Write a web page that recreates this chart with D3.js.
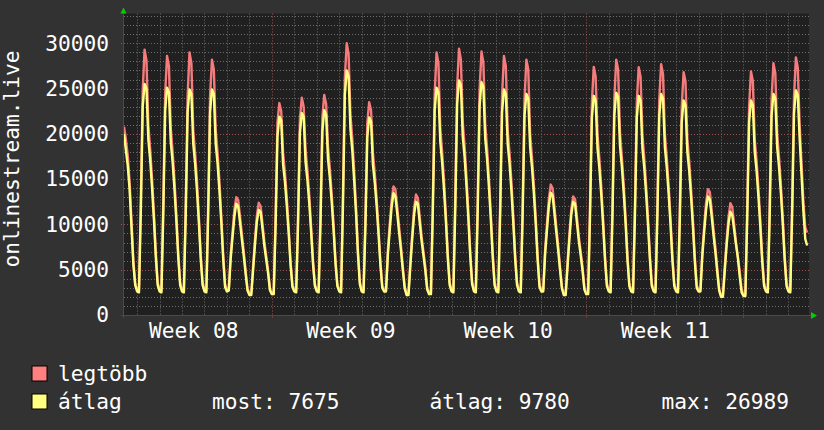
<!DOCTYPE html>
<html>
<head>
<meta charset="utf-8">
<script src="https://cdn.jsdelivr.net/npm/d3@7"></script>
<style>
  body { margin: 0; background: #323232; }
  svg { display: block; }
  text { font-family: "DejaVu Sans Mono", monospace; fill: #ffffff; }
</style>
</head>
<body>
<div id="chart"></div>
<script>
// one row per day, a sample every 2 hours (first day starts at 10:00, last ends at 20:00)
const days = [
  '2021-02-22', '2021-02-23', '2021-02-24', '2021-02-25', '2021-02-26', '2021-02-27', '2021-02-28',
  '2021-03-01', '2021-03-02', '2021-03-03', '2021-03-04', '2021-03-05', '2021-03-06', '2021-03-07',
  '2021-03-08', '2021-03-09', '2021-03-10', '2021-03-11', '2021-03-12', '2021-03-13', '2021-03-14',
  '2021-03-15', '2021-03-16', '2021-03-17', '2021-03-18', '2021-03-19', '2021-03-20', '2021-03-21',
  '2021-03-22', '2021-03-23', '2021-03-24'
];
const firstHour = 10;
const stepHours = 2;

// "átlag" series
const avgByDay = [
  [20000, 18200, 16500, 13800, 9700, 5600, 3300],
  [2600, 2500, 11500, 23000, 25500, 25000, 19400, 17100, 14000, 10500, 6400, 3300],
  [2600, 2500, 11300, 22600, 25100, 24600, 19100, 16800, 13800, 10300, 6300, 3300],
  [2600, 2500, 11200, 22400, 24900, 24400, 18900, 16700, 13700, 10200, 6200, 3300],
  [2600, 2500, 11200, 22400, 24900, 24400, 18900, 16700, 13700, 10200, 6200, 3100],
  [2600, 2700, 6200, 8600, 10900, 12300, 12000, 10200, 8300, 6500, 4500, 2700],
  [2200, 2200, 5000, 7800, 10300, 11600, 11400, 9500, 7600, 6100, 4600, 2700],
  [2300, 2300, 9900, 19700, 21900, 21500, 16600, 14700, 12000, 9000, 5500, 3100],
  [2600, 2500, 10000, 20100, 22300, 21900, 16900, 14900, 12300, 9100, 5600, 3200],
  [2600, 2500, 10200, 20300, 22600, 22100, 17200, 15100, 12400, 9300, 5700, 3200],
  [2600, 2500, 12100, 24300, 26989, 26400, 20500, 18100, 14800, 11100, 6700, 3400],
  [2600, 2500, 9800, 19600, 21800, 21400, 16600, 14600, 12000, 8900, 5500, 3000],
  [2600, 2600, 6700, 9400, 11900, 13450, 13100, 11200, 9100, 7100, 4900, 2900],
  [2200, 2200, 5400, 8400, 11100, 12500, 12300, 10200, 8200, 6600, 4900, 2800],
  [2300, 2300, 11300, 22600, 25100, 24600, 19100, 16800, 13800, 10300, 6300, 3300],
  [2600, 2500, 11700, 23300, 25900, 25400, 19700, 17400, 14200, 10600, 6500, 3400],
  [2600, 2500, 11600, 23100, 25700, 25200, 19500, 17200, 14100, 10500, 6400, 3300],
  [2600, 2500, 11200, 22400, 24900, 24400, 18900, 16700, 13700, 10200, 6200, 3300],
  [2600, 2500, 11000, 22000, 24400, 23900, 18500, 16300, 13400, 10000, 6100, 3100],
  [2600, 2600, 6700, 9400, 12000, 13500, 13200, 11200, 9100, 7100, 4900, 2900],
  [2200, 2200, 5400, 8400, 11100, 12500, 12300, 10200, 8200, 6600, 4900, 2800],
  [2300, 2300, 10900, 21800, 24200, 23700, 18400, 16200, 13300, 9900, 6100, 3200],
  [2600, 2500, 11000, 22100, 24550, 24100, 18700, 16400, 13500, 10100, 6100, 3200],
  [2600, 2500, 10900, 21800, 24200, 23700, 18400, 16200, 13300, 9900, 6100, 3200],
  [2600, 2500, 11000, 22000, 24400, 23900, 18500, 16300, 13400, 10000, 6100, 3200],
  [2600, 2500, 10700, 21300, 23700, 23200, 18000, 15900, 13000, 9700, 5900, 3000],
  [2600, 2600, 6500, 9200, 11600, 13100, 12800, 10900, 8800, 6900, 4700, 2700],
  [2000, 2000, 4900, 7700, 10100, 11400, 11000, 9400, 7800, 6300, 4200, 2500],
  [2100, 2100, 10700, 21300, 23700, 23200, 18000, 15900, 13000, 9700, 5900, 3200],
  [2600, 2500, 11000, 22000, 24400, 23900, 18500, 16300, 13400, 10000, 6100, 3200],
  [2600, 2500, 11200, 22300, 24800, 24300, 19500, 15500, 11500, 8400, 7675]
];

// "legtöbb" series
const maxByDay = [
  [20800, 19400, 17600, 14700, 10400, 6000, 3500],
  [2800, 2700, 12900, 24800, 29300, 28100, 21000, 18300, 15000, 11200, 6900, 3600],
  [2800, 2700, 12700, 24400, 28600, 27500, 20600, 18000, 14800, 11000, 6800, 3600],
  [2800, 2700, 12500, 24200, 29000, 27800, 20400, 17900, 14700, 10900, 6700, 3600],
  [2800, 2700, 12500, 24200, 28200, 27100, 20400, 17900, 14700, 10900, 6700, 3400],
  [2800, 2900, 6700, 9200, 11700, 13000, 12700, 10900, 8900, 7000, 4900, 2900],
  [2400, 2400, 5500, 8400, 11000, 12400, 12000, 10100, 8100, 6500, 4900, 2900],
  [2500, 2500, 11000, 21300, 23400, 22500, 17900, 15700, 12900, 9600, 5900, 3300],
  [2800, 2700, 11200, 21700, 24000, 23000, 18300, 16000, 13200, 9700, 6000, 3400],
  [2800, 2700, 11400, 21900, 24300, 23300, 18600, 16200, 13300, 9900, 6100, 3400],
  [2800, 2700, 13600, 26200, 30000, 28800, 22100, 19400, 15800, 11900, 7200, 3700],
  [2800, 2700, 11000, 21200, 23500, 22600, 17900, 15600, 12800, 9500, 5900, 3200],
  [2800, 2800, 7200, 10100, 12700, 14200, 13900, 11900, 9700, 7600, 5300, 3100],
  [2400, 2400, 5900, 9000, 11800, 13300, 12900, 10900, 8700, 7000, 5300, 3000],
  [2500, 2500, 12700, 24400, 29000, 27800, 20600, 18000, 14800, 11000, 6800, 3600],
  [2800, 2700, 13100, 25200, 29400, 28200, 21300, 18600, 15200, 11300, 7000, 3700],
  [2800, 2700, 13000, 24900, 29100, 27900, 21100, 18400, 15100, 11200, 6900, 3600],
  [2800, 2700, 12500, 24200, 28600, 27500, 20400, 17900, 14700, 10900, 6700, 3600],
  [2800, 2700, 12300, 23800, 28200, 27100, 20000, 17400, 14300, 10700, 6600, 3400],
  [2800, 2800, 7200, 10100, 12800, 14400, 14000, 11900, 9700, 7600, 5300, 3100],
  [2400, 2400, 5900, 9000, 11700, 13100, 12800, 10800, 8700, 7000, 5300, 3000],
  [2500, 2500, 12200, 23500, 27400, 26300, 19900, 17300, 14200, 10600, 6600, 3500],
  [2800, 2700, 12300, 23900, 28200, 27100, 20200, 17500, 14400, 10800, 6600, 3500],
  [2800, 2700, 12200, 23500, 27350, 26300, 19900, 17300, 14200, 10600, 6600, 3500],
  [2800, 2700, 12300, 23800, 27700, 26600, 20000, 17400, 14300, 10700, 6600, 3500],
  [2800, 2700, 12000, 23000, 26800, 25800, 19400, 17000, 13900, 10400, 6400, 3300],
  [2800, 2800, 7000, 9800, 12400, 13900, 13600, 11600, 9400, 7400, 5100, 2900],
  [2200, 2200, 5400, 8300, 10800, 12350, 11900, 10000, 8000, 6400, 4800, 2800],
  [2300, 2300, 12000, 23000, 26900, 25800, 19400, 17000, 13900, 10400, 6400, 3500],
  [2800, 2700, 12300, 23800, 27800, 26700, 20000, 17400, 14300, 10700, 6600, 3500],
  [2800, 2700, 12500, 24100, 28450, 27300, 21000, 16800, 12500, 9700, 9100]
];

const yTicks = [0, 5000, 10000, 15000, 20000, 25000, 30000];
const yTitle = 'onlinestream.live';
const seriesNames = ['legtöbb', 'átlag'];
const seriesColors = ['#ff8080', '#ffff80'];
const statLabels = ['most', 'átlag', 'max'];
const statValues = [7675, 9780, 26989];

const width = 824, height = 430;
const plot = { left: 124, right: 809, top: 13.5, bottom: 315 };
const fontSize = 21.2;

const startTime = new Date(Date.UTC(2021, 1, 22, 10));
const endTime = new Date(Date.UTC(2021, 2, 24, 22));

let points = [];
days.forEach(function(day, k) {
  let h0 = k === 0 ? firstHour : 0;
  avgByDay[k].forEach(function(v, j) {
    points.push({
      t: new Date(Date.parse(day + 'T00:00:00Z') + (h0 + j * stepHours) * 3600e3),
      avg: v,
      max: maxByDay[k][j]
    });
  });
});

let x = d3.scaleUtc().domain([startTime, endTime]).range([plot.left, plot.right]);
let y = d3.scaleLinear().domain([0, 33290]).range([plot.bottom, plot.top]);

let svg = d3.select('#chart').append('svg')
  .attr('width', width)
  .attr('height', height);

svg.append('rect')
  .attr('width', width).attr('height', height)
  .attr('fill', '#323232');

svg.append('rect')
  .attr('x', plot.left).attr('y', plot.top)
  .attr('width', plot.right - plot.left)
  .attr('height', plot.bottom - plot.top)
  .attr('fill', '#202020');

// grid
let grid = svg.append('g').attr('class', 'grid');
let minorY = d3.range(1000, 33290, 1000).filter(v => v % 5000 !== 0);
let majorY = yTicks.filter(v => v > 0);
let minorX = d3.utcDay.range(d3.utcDay.ceil(startTime), endTime).filter(d => d.getUTCDay() !== 1);
let majorX = d3.utcMonday.range(startTime, endTime);

grid.selectAll('line.minor-y').data(minorY).enter().append('line')
  .attr('x1', plot.left).attr('x2', plot.right)
  .attr('y1', d => Math.round(y(d)) + 0.5).attr('y2', d => Math.round(y(d)) + 0.5)
  .attr('stroke', '#6e6e6e').attr('stroke-dasharray', '1,2');
grid.selectAll('line.minor-x').data(minorX).enter().append('line')
  .attr('x1', d => Math.round(x(d)) + 0.5).attr('x2', d => Math.round(x(d)) + 0.5)
  .attr('y1', plot.top).attr('y2', plot.bottom)
  .attr('stroke', '#6e6e6e').attr('stroke-dasharray', '1,2');
grid.selectAll('line.major-y').data(majorY).enter().append('line')
  .attr('x1', plot.left - 3).attr('x2', plot.right)
  .attr('y1', d => Math.round(y(d)) + 0.5).attr('y2', d => Math.round(y(d)) + 0.5)
  .attr('stroke', '#a05050').attr('stroke-dasharray', '1,2');
grid.selectAll('line.major-x').data(majorX).enter().append('line')
  .attr('x1', d => Math.round(x(d)) + 0.5).attr('x2', d => Math.round(x(d)) + 0.5)
  .attr('y1', plot.top).attr('y2', plot.bottom + 3)
  .attr('stroke', '#a05050').attr('stroke-dasharray', '1,2');

// lines
let maxLine = d3.line().x(d => x(d.t)).y(d => y(d.max));
let avgLine = d3.line().x(d => x(d.t)).y(d => y(d.avg));

svg.append('path').datum(points)
  .attr('d', maxLine)
  .attr('fill', 'none')
  .attr('stroke', '#f47c7c')
  .attr('stroke-width', 2.4)
  .attr('stroke-linejoin', 'round');

svg.append('path').datum(points)
  .attr('d', avgLine)
  .attr('fill', 'none')
  .attr('stroke', seriesColors[1])
  .attr('stroke-width', 2.4)
  .attr('stroke-linejoin', 'round');

// axis lines and arrows
svg.append('line')
  .attr('x1', plot.left - 0.5).attr('x2', plot.left - 0.5)
  .attr('y1', plot.bottom + 3).attr('y2', plot.top - 2)
  .attr('stroke', '#4a4a4a');
svg.append('line')
  .attr('x1', plot.left - 3).attr('x2', plot.right + 2)
  .attr('y1', plot.bottom + 0.5).attr('y2', plot.bottom + 0.5)
  .attr('stroke', '#4a4a4a');
svg.append('path')
  .attr('d', `M ${plot.left - 3.5} ${plot.top} L ${plot.left + 2.5} ${plot.top} L ${plot.left - 0.5} ${plot.top - 6} Z`)
  .attr('fill', '#00d000');
svg.append('path')
  .attr('d', `M ${plot.right + 2} ${plot.bottom - 3} L ${plot.right + 2} ${plot.bottom + 4} L ${plot.right + 8} ${plot.bottom + 0.5} Z`)
  .attr('fill', '#00d000');

// y labels
svg.append('g')
  .attr('transform', 'translate(' + plot.left + ',0)')
  .call(d3.axisLeft(y).tickValues(yTicks).tickSize(0).tickPadding(15).tickFormat(d3.format('d')))
  .call(g => g.select('.domain').remove())
  .call(g => g.selectAll('text')
    .attr('fill', '#ffffff')
    .style('font-family', '"DejaVu Sans Mono", monospace')
    .style('font-size', fontSize + 'px'));

// week labels, centred on each week
let weekMids = d3.utcMonday.range(d3.utcMonday.floor(startTime), endTime)
  .map(d => d3.utcHour.offset(d, 84))
  .filter(d => d >= startTime && d <= endTime);

svg.append('g')
  .attr('transform', 'translate(0,' + plot.bottom + ')')
  .call(d3.axisBottom(x).tickValues(weekMids).tickSize(0).tickPadding(8).tickFormat(d3.utcFormat('Week %V')))
  .call(g => g.select('.domain').remove())
  .call(g => g.selectAll('text')
    .attr('fill', '#ffffff')
    .style('font-family', '"DejaVu Sans Mono", monospace')
    .style('font-size', fontSize + 'px'));

// y title
svg.append('text')
  .attr('transform', 'translate(18.5,159) rotate(-90)')
  .attr('text-anchor', 'middle')
  .style('font-size', fontSize + 'px')
  .text(yTitle);

// legend
let legendRows = [380.5, 408.5];
seriesNames.forEach(function(name, i) {
  svg.append('rect')
    .attr('x', 32).attr('y', legendRows[i] - 14.5)
    .attr('width', 15).attr('height', 15)
    .attr('fill', seriesColors[i])
    .attr('stroke', '#000000');
  svg.append('text')
    .attr('x', 58).attr('y', legendRows[i])
    .style('font-size', fontSize + 'px')
    .text(name);
});

let statX = [212, 429.5, 661.5];
statLabels.forEach(function(label, i) {
  svg.append('text')
    .attr('x', statX[i]).attr('y', legendRows[1])
    .style('font-size', fontSize + 'px')
    .text(label + ': ' + statValues[i]);
});
</script>
</body>
</html>
